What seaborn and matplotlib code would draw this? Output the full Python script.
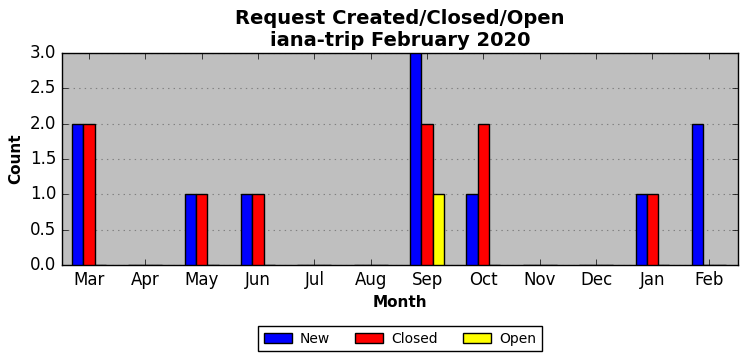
import pandas as pd
import matplotlib
matplotlib.use('Agg')
import matplotlib.pyplot as plt
import seaborn as sns

months = ['Mar', 'Apr', 'May', 'Jun', 'Jul', 'Aug', 'Sep', 'Oct', 'Nov', 'Dec', 'Jan', 'Feb']
new_counts = [2, 0, 1, 1, 0, 0, 3, 1, 0, 0, 1, 2]
closed_counts = [2, 0, 1, 1, 0, 0, 2, 2, 0, 0, 1, 0]
open_counts = [0, 0, 0, 0, 0, 0, 1, 0, 0, 0, 0, 0]
series = ['New', 'Closed', 'Open']
colors = ['blue', 'red', 'yellow']

df = pd.DataFrame({
    'Month': months * 3,
    'Count': new_counts + closed_counts + open_counts,
    'Status': [s for s in series for _ in months],
})

plt.style.use('classic')
plt.rcParams['font.family'] = 'DejaVu Sans'

fig = plt.figure(figsize=(7.47, 3.61), dpi=100, facecolor='white')
ax = fig.add_axes([0.083, 0.266, 0.905, 0.587])
ax.set_facecolor('#bfbfbf')

sns.barplot(data=df, x='Month', y='Count', hue='Status', order=months,
            hue_order=series, palette=colors, saturation=1, width=0.6,
            edgecolor='black', linewidth=1, ax=ax, zorder=3)

ax.set_ylim(0, 3)
ax.set_xlim(-0.48, 11.52)
ax.yaxis.grid(True, linestyle=':', color='#808080', linewidth=0.8, zorder=0)
ax.xaxis.grid(False)
ax.set_axisbelow(True)
ax.tick_params(labelsize=12)

ax.set_title('Request Created/Closed/Open\niana-trip February 2020',
             fontsize=14, fontweight='bold', linespacing=1.2)
ax.set_xlabel('Month', fontsize=11, fontweight='bold')
ax.set_ylabel('Count', fontsize=11, fontweight='bold')

ax.legend(loc='upper center', bbox_to_anchor=(0.5, -0.257), ncol=3,
          fontsize=10, frameon=True, fancybox=False, handlelength=2,
          columnspacing=1.8, handletextpad=0.6)

fig.savefig('out.png', dpi=100, facecolor='white')
